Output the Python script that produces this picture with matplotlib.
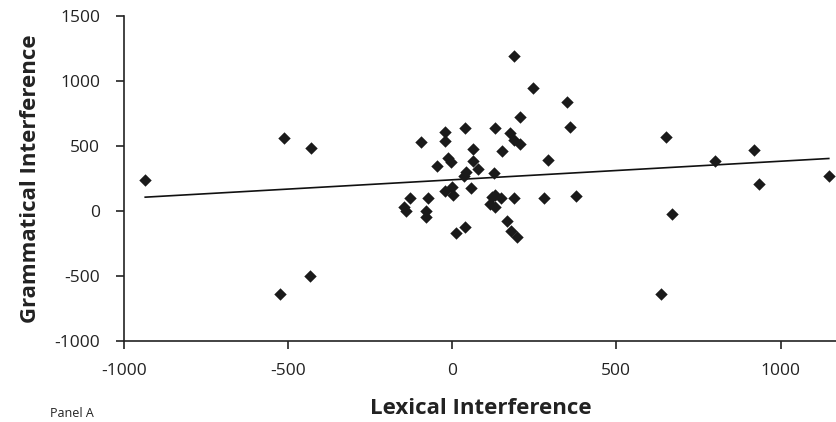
import numpy as np
import matplotlib
matplotlib.use("Agg")
import matplotlib.pyplot as plt

# lexical (x) vs grammatical (y) interference
lexical = [-935, -513, -430, -526, -433, -148, -142, -128, -73, -79,
           -79, -46, -23, -13, -5, -95, -23, -23, 38, 130,
           175, 188, 207, 63, 153, 62, 79, 42, 37, 126,
           0, 3, 58, 12, 40, 129, 122, 149, 116, 129,
           187, 166, 179, 196, 189, 245, 349, 358, 207, 291,
           280, 377, 651, 800, 918, 934, 1147, 670, 635]
grammatical = [239, 559, 485, -645, -504, 30, -3, 97, 102, -3,
               -50, 343, 151, 410, 375, 526, 603, 539, 636, 636,
               598, 547, 511, 472, 457, 385, 323, 295, 270, 293,
               180, 125, 174, -173, -129, 120, 108, 100, 54, 28,
               97, -80, -154, -206, 1191, 942, 834, 647, 719, 390,
               102, 112, 565, 382, 467, 205, 270, -23, -640]

x_ticks = [-1000, -500, 0, 500, 1000]
y_ticks = [-1000, -500, 0, 500, 1000, 1500]

plt.rcParams['font.family'] = ['Open Sans', 'DejaVu Sans']
plt.rcParams['axes.unicode_minus'] = False

fig = plt.figure(figsize=(8.37, 4.22), dpi=100)
ax = fig.add_axes([0.148, 0.193, 0.852, 0.769])

x = np.array(lexical, dtype=float)
y = np.array(grammatical, dtype=float)
ax.scatter(x, y, marker='D', s=40, c='#1a1a1a', linewidths=0, zorder=3)

# linear trendline over the data range
slope, intercept = np.polyfit(x, y, 1)
xs = np.array([x.min(), x.max()])
ax.plot(xs, slope * xs + intercept, color='#111111', lw=1.2, zorder=2)

ax.set_xlim(-1000, 1172)
ax.set_ylim(-1000, 1500)
ax.set_xticks(x_ticks)
ax.set_yticks(y_ticks)
ax.tick_params(direction='out', length=6, width=1.2, labelsize=12.5,
               colors='#222222')
ax.tick_params(axis='x', pad=10)
ax.tick_params(axis='y', pad=11)
for side in ['top', 'right']:
    ax.spines[side].set_visible(False)
for side in ['left', 'bottom']:
    ax.spines[side].set_linewidth(1.2)
    ax.spines[side].set_color('#222222')

ax.set_xlabel('Lexical Interference', fontsize=16, fontweight='bold',
              color='#222222', labelpad=14)
ax.set_ylabel('Grammatical Interference', fontsize=16, fontweight='bold',
              color='#222222', labelpad=10)

fig.text(0.06, 0.004, 'Panel A', fontsize=9, va='bottom', color='#222222')

fig.savefig('out.png', dpi=100)
